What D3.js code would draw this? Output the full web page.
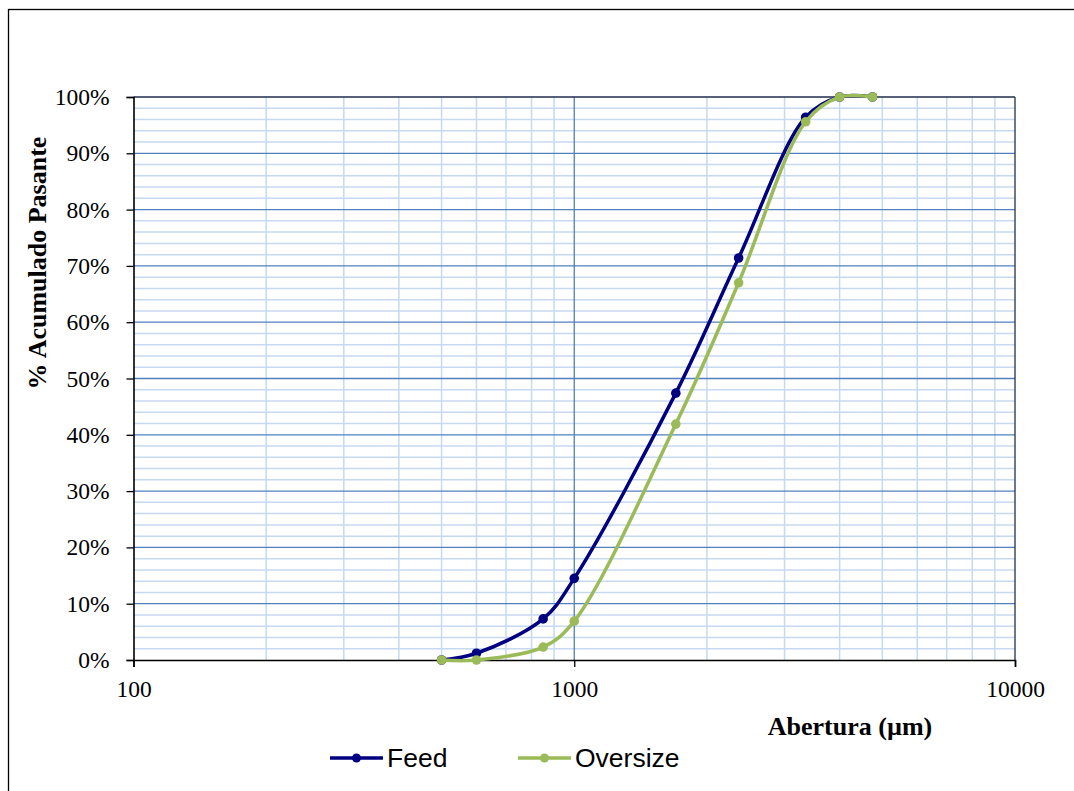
<!DOCTYPE html>
<html>
<head>
<meta charset="utf-8">
<script src="https://cdn.jsdelivr.net/npm/d3@7"></script>
<style>
  html, body { margin: 0; padding: 0; background: #fff; }
  svg { display: block; }
</style>
</head>
<body>
<svg id="chart" width="1074" height="791"></svg>
<script>
// Particle size distribution: cumulative % passing vs sieve aperture
const apertures = [500, 600, 850, 1000, 1700, 2360, 3350, 4000, 4750];
const feedPassing = [0, 1.2, 7.3, 14.5, 47.4, 71.4, 96.4, 100, 100];
const oversizePassing = [0, 0, 2.3, 6.9, 41.9, 67.0, 95.6, 100, 100];
const seriesNames = ["Feed", "Oversize"];
const seriesColors = ["#000080", "#9bbb59"];
const yTicks = [0, 10, 20, 30, 40, 50, 60, 70, 80, 90, 100];
const xMajorTicks = [100, 1000, 10000];

(function drawChart() {
  const svg = d3.select("#chart");
  const plotL = 133.5, plotR = 1015, plotT = 97, plotB = 660;

  const x = d3.scaleLog().domain([100, 10000]).range([plotL, plotR]);
  const y = d3.scaleLinear().domain([0, 100]).range([plotB, plotT]);

  // outer chart frame
  svg.append("rect")
    .attr("x", 8.5).attr("y", 9.5).attr("width", 1070).attr("height", 790)
    .attr("fill", "none").attr("stroke", "#000").attr("stroke-width", 1.3);

  const grid = svg.append("g");

  // minor horizontal gridlines every 2%
  d3.range(2, 100, 2).filter(v => v % 10 !== 0).forEach(v => {
    grid.append("line")
      .attr("x1", plotL).attr("x2", plotR)
      .attr("y1", y(v)).attr("y2", y(v))
      .attr("stroke", "#c6d9f1").attr("stroke-width", 1.5);
  });
  // minor vertical gridlines
  const minorX = [];
  [100, 1000].forEach(d => { for (let k = 2; k <= 9; k++) minorX.push(d * k); });
  minorX.forEach(v => {
    grid.append("line")
      .attr("x1", x(v)).attr("x2", x(v))
      .attr("y1", plotT).attr("y2", plotB)
      .attr("stroke", "#c6d9f1").attr("stroke-width", 1.5);
  });
  // major horizontal gridlines
  yTicks.filter(v => v > 0 && v < 100).forEach(v => {
    grid.append("line")
      .attr("x1", plotL).attr("x2", plotR)
      .attr("y1", y(v)).attr("y2", y(v))
      .attr("stroke", "#4f81bd").attr("stroke-width", 1.3);
  });
  // major vertical gridline
  grid.append("line")
    .attr("x1", x(1000)).attr("x2", x(1000))
    .attr("y1", plotT).attr("y2", plotB)
    .attr("stroke", "#4f81bd").attr("stroke-width", 1.3);

  // top and right frame of plot area
  svg.append("line").attr("x1", plotL).attr("x2", plotR).attr("y1", plotT).attr("y2", plotT)
    .attr("stroke", "#1f2d4d").attr("stroke-width", 1.3);
  svg.append("line").attr("x1", plotR).attr("x2", plotR).attr("y1", plotT).attr("y2", plotB)
    .attr("stroke", "#1f2d4d").attr("stroke-width", 1.3);

  // axes
  const serif = "'Liberation Serif', 'Times New Roman', serif";
  const yAxis = d3.axisLeft(y).tickValues(yTicks).tickFormat(d => d + "%").tickSize(7).tickPadding(17);
  const gy = svg.append("g").attr("transform", `translate(${plotL},0)`).call(yAxis);
  gy.select(".domain").attr("stroke", "#000").attr("stroke-width", 1.6);
  gy.selectAll(".tick line").attr("stroke", "#000").attr("stroke-width", 1.3);
  gy.selectAll("text").attr("font-family", serif).attr("font-size", 23.5).attr("fill", "#000");

  const xAxis = d3.axisBottom(x).tickValues(xMajorTicks).tickFormat(d3.format("d")).tickSize(7).tickPadding(13);
  const gx = svg.append("g").attr("transform", `translate(0,${plotB})`).call(xAxis);
  gx.select(".domain").attr("stroke", "#000").attr("stroke-width", 1.6);
  gx.selectAll(".tick line").attr("stroke", "#000").attr("stroke-width", 1.3);
  gx.selectAll("text").attr("font-family", serif).attr("font-size", 23.5).attr("fill", "#000");

  // axis titles
  svg.append("text")
    .attr("transform", "translate(46,263) rotate(-90)")
    .attr("text-anchor", "middle")
    .attr("font-family", serif).attr("font-weight", "bold").attr("font-size", 26)
    .text("% Acumulado Pasante");

  svg.append("text")
    .attr("x", 850).attr("y", 735)
    .attr("text-anchor", "middle")
    .attr("font-family", serif).attr("font-weight", "bold").attr("font-size", 26)
    .text("Abertura (µm)");

  // series
  const line = d3.line()
    .x(d => x(d[0])).y(d => y(d[1]))
    .curve(d3.curveCatmullRom.alpha(0.5));

  [feedPassing, oversizePassing].forEach((vals, i) => {
    const pts = apertures.map((a, j) => [a, vals[j]]);
    const g = svg.append("g");
    g.append("path").datum(pts)
      .attr("d", line).attr("fill", "none")
      .attr("stroke", seriesColors[i]).attr("stroke-width", 3.5)
      .attr("stroke-linejoin", "round");
    g.selectAll("circle").data(pts).join("circle")
      .attr("cx", d => x(d[0])).attr("cy", d => y(d[1]))
      .attr("r", 4.8).attr("fill", seriesColors[i]);
  });

  // legend
  const legendX = [330, 518];
  seriesNames.forEach((name, i) => {
    const lx = legendX[i], ly = 758;
    svg.append("line").attr("x1", lx).attr("x2", lx + 53).attr("y1", ly).attr("y2", ly)
      .attr("stroke", seriesColors[i]).attr("stroke-width", 3.5);
    svg.append("circle").attr("cx", lx + 26.5).attr("cy", ly).attr("r", 4.5).attr("fill", seriesColors[i]);
    svg.append("text").attr("x", lx + 57).attr("y", ly + 9)
      .attr("font-family", "'Liberation Sans', Arial, sans-serif").attr("font-size", 26.5)
      .text(name);
  });
})();
</script>
</body>
</html>
